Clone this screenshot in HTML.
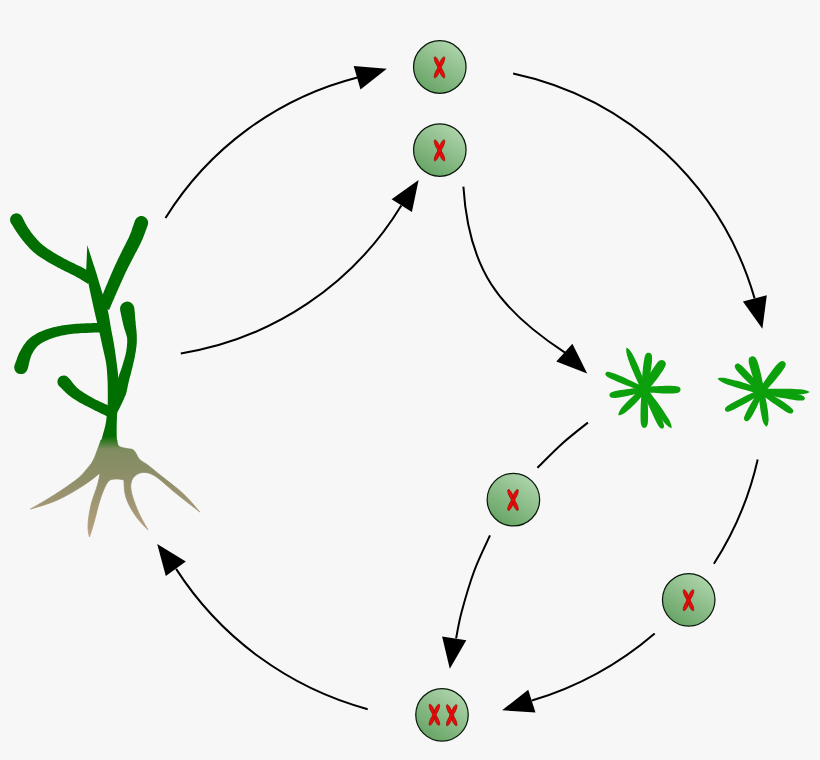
<!DOCTYPE html>
<html><head><meta charset="utf-8">
<style>
html,body{margin:0;padding:0;background:#f7f7f7;font-family:"Liberation Sans",sans-serif;}
svg{display:block}
</style></head>
<body>
<svg width="820" height="760" viewBox="0 0 820 760">
<defs>
<linearGradient id="cg" x1="0.8" y1="0.1" x2="0.25" y2="0.95">
<stop offset="0" stop-color="#acd2a9"/><stop offset="1" stop-color="#68a566"/>
</linearGradient>
<linearGradient id="pg" gradientUnits="userSpaceOnUse" x1="0" y1="436" x2="0" y2="537">
<stop offset="0" stop-color="#006e00"/><stop offset="0.13" stop-color="#808c60"/><stop offset="0.45" stop-color="#918f6b"/><stop offset="1" stop-color="#b8a080"/>
</linearGradient>
<g id="chr" fill="#ee0808" stroke="#981008" stroke-width="0.7">
<ellipse cx="0" cy="-5.7" rx="1.75" ry="5.85" transform="rotate(-24.5)"/>
<ellipse cx="0" cy="-5.7" rx="1.75" ry="5.85" transform="rotate(24.5)"/>
<ellipse cx="0" cy="5.7" rx="1.75" ry="5.85" transform="rotate(-24.5)"/>
<ellipse cx="0" cy="5.7" rx="1.75" ry="5.85" transform="rotate(24.5)"/>
<circle r="2.3" stroke-width="0.4"/>
</g>
</defs>
<rect width="820" height="760" fill="#f7f7f7"/>

<g fill="none" stroke="#000" stroke-width="2">
<path d="M165.5,218.0 A318.6,318.6 0 0 1 357.5,77.5"/>
<path d="M513.1,73.4 A321.6,321.6 0 0 1 754.6,298.4"/>
<path d="M757.7,459.5 A323.8,323.8 0 0 1 713.9,563.7"/>
<path d="M654.7,633.4 A336.4,336.4 0 0 1 531.9,700.5"/>
<path d="M367.7,709.2 A331.2,331.2 0 0 1 176.1,568.9"/>
<path d="M180.8,353.4 A316.6,316.6 0 0 0 401.3,205.5"/>
<path d="M463.4,186.6 C468.6,269.0 498.6,309.3 565.0,352.6"/>
<path d="M587.9,422.6 C583.7,426.0 571.0,435.7 562.6,443.2 C554.2,450.7 541.6,463.7 537.4,467.8"/>
<path d="M490.0,535.4 C487.4,541.3 478.9,558.2 474.2,571.0 C469.5,583.8 464.6,600.8 461.6,612.0 C458.6,623.2 457.0,634.0 456.1,638.4"/>
</g>
<g fill="#000">
<path d="M386.8,68.7 L353.7,66.1 L360.5,89.5Z"/>
<path d="M418.6,180.0 L391.6,199.2 L411.9,212.1Z"/>
<path d="M762.4,328.7 L742.9,301.4 L766.8,295.3Z"/>
<path d="M587.2,373.5 L556.3,361.6 L572.4,343.7Z"/>
<path d="M449.8,668.7 L442.1,636.5 L466.3,640.3Z"/>
<path d="M502.1,710.3 L528.2,689.7 L535.5,712.6Z"/>
<path d="M157.2,544.0 L185.8,561.6 L165.8,576.0Z"/>
</g>
<circle cx="439.8" cy="67.0" r="26.25" fill="url(#cg)" stroke="#0a1a0a" stroke-width="1.25"/>
<use href="#chr" x="439.5" y="67.4"/>
<circle cx="439.8" cy="150.0" r="26.25" fill="url(#cg)" stroke="#0a1a0a" stroke-width="1.25"/>
<use href="#chr" x="439.5" y="150.4"/>
<circle cx="513.4" cy="499.7" r="26.25" fill="url(#cg)" stroke="#0a1a0a" stroke-width="1.25"/>
<use href="#chr" x="513.0" y="500.0"/>
<circle cx="688.7" cy="599.8" r="26.25" fill="url(#cg)" stroke="#0a1a0a" stroke-width="1.25"/>
<use href="#chr" x="688.5" y="600.2"/>
<circle cx="442.0" cy="714.8" r="26.25" fill="url(#cg)" stroke="#0a1a0a" stroke-width="1.25"/>
<use href="#chr" x="434.4" y="714.8"/>
<use href="#chr" x="451.7" y="715.2"/>
<g fill="#006e00">
<path d="M10.9,222.9 L11.4,223.7 L11.9,224.5 L12.4,225.3 L12.9,226.1 L13.4,227.0 L13.9,227.8 L14.5,228.7 L15.0,229.6 L15.6,230.5 L16.2,231.4 L16.8,232.3 L17.5,233.3 L18.1,234.2 L18.8,235.1 L19.4,236.0 L20.1,236.9 L20.8,237.9 L21.5,238.8 L22.2,239.7 L22.9,240.7 L23.7,241.6 L24.4,242.5 L25.2,243.4 L25.9,244.3 L26.7,245.1 L27.4,245.9 L28.2,246.7 L28.9,247.6 L29.7,248.4 L30.5,249.2 L31.3,250.0 L32.2,250.8 L33.1,251.7 L34.0,252.5 L35.0,253.3 L36.0,254.1 L37.0,254.9 L38.2,255.7 L39.3,256.5 L40.4,257.3 L41.6,258.1 L42.8,258.8 L44.0,259.6 L45.2,260.3 L46.3,261.0 L47.5,261.7 L48.6,262.4 L49.8,263.0 L50.9,263.7 L52.1,264.3 L53.2,265.0 L54.3,265.6 L55.5,266.2 L56.6,266.8 L57.7,267.4 L58.9,268.0 L60.0,268.6 L61.1,269.2 L62.2,269.7 L63.3,270.3 L64.5,270.9 L65.6,271.5 L66.8,272.0 L67.9,272.6 L69.0,273.1 L70.1,273.7 L71.2,274.2 L72.3,274.7 L73.4,275.3 L74.4,275.8 L75.4,276.3 L76.4,276.9 L77.4,277.4 L78.4,278.0 L79.3,278.5 L80.3,279.1 L81.2,279.7 L82.2,280.3 L83.2,280.9 L84.1,281.5 L85.1,282.1 L86.1,282.7 L87.1,283.3 L88.1,284.0 L93.9,274.0 L92.9,273.5 L91.9,272.9 L91.0,272.4 L90.0,271.8 L89.0,271.2 L88.0,270.6 L86.9,270.1 L85.9,269.5 L84.9,268.9 L83.8,268.3 L82.7,267.7 L81.6,267.1 L80.5,266.6 L79.3,266.0 L78.2,265.4 L77.1,264.9 L75.9,264.4 L74.8,263.8 L73.7,263.3 L72.6,262.8 L71.5,262.3 L70.4,261.8 L69.3,261.2 L68.3,260.7 L67.2,260.1 L66.1,259.6 L65.0,259.0 L63.9,258.4 L62.9,257.8 L61.8,257.2 L60.7,256.6 L59.6,256.0 L58.6,255.4 L57.5,254.8 L56.5,254.2 L55.4,253.6 L54.3,252.9 L53.2,252.2 L52.1,251.5 L51.0,250.8 L49.9,250.1 L48.8,249.4 L47.7,248.7 L46.7,248.0 L45.7,247.3 L44.8,246.6 L43.9,246.0 L43.0,245.3 L42.2,244.6 L41.5,244.0 L40.7,243.3 L40.0,242.6 L39.3,241.9 L38.7,241.2 L38.0,240.5 L37.3,239.8 L36.7,239.1 L36.0,238.3 L35.3,237.5 L34.7,236.7 L34.0,236.0 L33.4,235.2 L32.7,234.3 L32.1,233.5 L31.4,232.7 L30.8,231.8 L30.2,231.0 L29.6,230.1 L29.0,229.3 L28.4,228.4 L27.9,227.6 L27.3,226.7 L26.8,225.9 L26.4,225.1 L25.9,224.3 L25.5,223.5 L25.1,222.7 L24.6,221.8 L24.2,221.0 L23.8,220.1 L23.3,219.2 L22.9,218.3 L22.4,217.4 L21.9,216.5 L20.5,214.8 L18.6,213.7 L16.4,213.3 L14.2,213.7 L12.3,214.8 L10.9,216.5 L10.1,218.6 L10.1,220.8Z"/>
<path d="M135.0,220.5 L134.6,221.8 L134.1,223.0 L133.7,224.3 L133.3,225.6 L132.8,226.8 L132.4,228.1 L132.0,229.3 L131.6,230.5 L131.2,231.7 L130.7,232.9 L130.2,234.1 L129.8,235.3 L129.2,236.5 L128.7,237.7 L128.1,238.9 L127.4,240.2 L126.8,241.5 L126.1,242.8 L125.5,244.2 L124.8,245.5 L124.1,246.8 L123.4,248.2 L122.7,249.5 L122.1,250.8 L121.5,252.0 L120.9,253.3 L120.3,254.5 L119.7,255.7 L119.1,256.9 L118.5,258.1 L117.9,259.3 L117.4,260.5 L116.8,261.7 L116.2,263.0 L115.6,264.2 L115.0,265.5 L114.4,266.8 L113.8,268.2 L113.2,269.6 L112.6,270.9 L112.0,272.3 L111.4,273.7 L110.8,275.1 L110.2,276.4 L109.7,277.8 L109.1,279.1 L108.6,280.3 L108.1,281.6 L107.6,282.7 L107.1,283.9 L106.6,285.1 L106.1,286.2 L105.6,287.3 L105.2,288.4 L104.7,289.5 L104.3,290.6 L103.9,291.6 L103.5,292.7 L103.0,293.7 L102.6,294.8 L102.3,295.8 L101.9,296.8 L101.6,297.8 L101.3,298.7 L100.9,299.7 L100.6,300.6 L100.3,301.5 L100.0,302.4 L99.8,303.3 L99.5,304.2 L99.2,305.1 L98.9,306.0 L109.1,310.0 L109.5,309.1 L109.9,308.2 L110.3,307.3 L110.7,306.4 L111.0,305.5 L111.4,304.6 L111.8,303.8 L112.2,302.9 L112.5,302.0 L112.9,301.1 L113.3,300.2 L113.8,299.2 L114.2,298.3 L114.6,297.3 L115.0,296.3 L115.5,295.3 L115.9,294.2 L116.4,293.2 L116.8,292.1 L117.3,291.0 L117.8,289.9 L118.3,288.8 L118.8,287.6 L119.3,286.4 L119.9,285.2 L120.4,284.0 L121.0,282.7 L121.6,281.4 L122.2,280.0 L122.8,278.7 L123.4,277.4 L124.0,276.0 L124.6,274.7 L125.2,273.4 L125.8,272.1 L126.4,270.9 L127.0,269.7 L127.6,268.5 L128.2,267.3 L128.8,266.1 L129.4,265.0 L130.0,263.8 L130.6,262.7 L131.2,261.5 L131.8,260.3 L132.4,259.1 L133.1,257.9 L133.7,256.6 L134.3,255.4 L135.0,254.1 L135.7,252.8 L136.4,251.5 L137.1,250.2 L137.8,248.8 L138.5,247.5 L139.2,246.1 L139.9,244.7 L140.6,243.3 L141.2,241.9 L141.8,240.5 L142.5,239.2 L143.0,237.8 L143.6,236.5 L144.1,235.1 L144.6,233.8 L145.1,232.5 L145.5,231.3 L146.0,230.0 L146.4,228.8 L146.9,227.6 L147.3,226.4 L147.8,225.1 L148.2,222.8 L147.8,220.5 L146.6,218.4 L144.8,216.9 L142.6,216.1 L140.2,216.1 L138.0,216.9 L136.2,218.4Z"/>
<path d="M27.5,369.5 L27.8,368.2 L28.2,366.9 L28.5,365.6 L28.8,364.3 L29.1,363.1 L29.4,361.8 L29.7,360.7 L30.0,359.6 L30.3,358.5 L30.6,357.5 L31.0,356.6 L31.3,355.6 L31.8,354.6 L32.3,353.6 L32.8,352.7 L33.3,351.7 L33.8,350.8 L34.4,350.0 L34.9,349.2 L35.5,348.4 L36.1,347.7 L36.7,347.0 L37.4,346.3 L38.1,345.6 L39.0,344.9 L39.9,344.3 L40.9,343.6 L41.9,342.9 L43.0,342.3 L44.2,341.7 L45.4,341.1 L46.7,340.5 L48.0,339.9 L49.4,339.3 L50.8,338.8 L52.3,338.2 L53.8,337.8 L55.3,337.3 L56.8,336.8 L58.4,336.4 L60.1,336.0 L61.7,335.6 L63.5,335.3 L65.3,334.9 L67.1,334.6 L69.0,334.3 L70.9,334.0 L72.9,333.8 L75.0,333.6 L77.1,333.4 L79.4,333.2 L81.7,333.1 L84.0,333.0 L86.4,332.9 L88.9,332.8 L91.4,332.7 L93.8,332.6 L96.3,332.6 L98.8,332.5 L101.2,332.3 L100.8,322.9 L98.4,323.0 L96.0,323.0 L93.5,323.1 L91.1,323.2 L88.6,323.3 L86.1,323.3 L83.6,323.4 L81.2,323.5 L78.8,323.7 L76.4,323.8 L74.1,324.0 L71.9,324.2 L69.7,324.5 L67.6,324.7 L65.6,325.0 L63.6,325.3 L61.7,325.6 L59.8,325.9 L57.9,326.3 L56.1,326.7 L54.3,327.1 L52.5,327.6 L50.8,328.0 L49.1,328.6 L47.5,329.1 L45.8,329.6 L44.2,330.2 L42.6,330.8 L41.1,331.5 L39.6,332.1 L38.1,332.8 L36.6,333.6 L35.2,334.4 L33.9,335.2 L32.6,336.1 L31.3,337.0 L30.0,338.0 L28.9,339.0 L27.8,340.1 L26.8,341.1 L25.8,342.2 L25.0,343.4 L24.1,344.5 L23.4,345.6 L22.7,346.8 L22.0,347.9 L21.3,349.0 L20.7,350.2 L20.0,351.4 L19.3,352.8 L18.7,354.1 L18.1,355.5 L17.6,356.8 L17.1,358.1 L16.7,359.4 L16.3,360.6 L15.8,361.8 L15.4,363.0 L15.0,364.1 L14.5,365.3 L14.2,367.6 L14.7,369.9 L15.9,371.9 L17.8,373.4 L20.0,374.1 L22.4,374.1 L24.6,373.2 L26.3,371.6Z"/>
<path d="M120.1,309.9 L120.3,311.1 L120.6,312.4 L120.9,313.6 L121.1,314.9 L121.4,316.2 L121.7,317.4 L122.0,318.7 L122.2,320.0 L122.5,321.2 L122.8,322.5 L123.1,323.8 L123.3,325.0 L123.7,326.3 L124.1,327.6 L124.4,328.9 L124.8,330.1 L125.2,331.2 L125.6,332.4 L125.9,333.5 L126.2,334.5 L126.5,335.6 L126.8,336.6 L127.0,337.6 L127.2,338.6 L127.2,339.7 L127.2,340.7 L127.2,341.8 L127.2,342.9 L127.1,344.0 L127.0,345.1 L126.9,346.3 L126.8,347.4 L126.6,348.6 L126.4,349.7 L126.3,350.9 L126.1,352.1 L125.8,353.3 L125.6,354.4 L125.3,355.6 L124.9,356.9 L124.6,358.1 L124.3,359.4 L123.9,360.6 L123.5,361.8 L123.2,363.1 L122.8,364.3 L122.4,365.5 L122.1,366.7 L121.7,367.7 L121.4,368.8 L121.0,369.8 L120.7,370.8 L120.3,371.8 L120.0,372.8 L119.6,373.8 L119.2,374.8 L118.9,375.9 L118.5,376.9 L118.2,378.0 L117.9,379.2 L117.6,380.3 L117.4,381.4 L117.2,382.6 L117.0,383.6 L116.9,384.7 L116.7,385.7 L116.6,386.7 L116.4,387.7 L116.2,388.7 L116.1,389.7 L115.9,390.7 L115.7,391.7 L115.6,392.8 L115.4,393.9 L115.2,395.1 L115.1,396.3 L114.9,397.6 L114.6,398.8 L114.4,400.0 L114.2,401.3 L114.0,402.5 L113.8,403.7 L113.6,404.9 L113.4,406.0 L113.3,407.1 L113.1,408.1 L113.0,409.1 L112.9,410.1 L112.8,411.1 L112.7,412.0 L112.6,413.0 L112.5,413.9 L112.4,414.8 L112.3,415.8 L112.2,416.7 L112.0,417.7 L114.0,418.3 L114.4,417.5 L114.9,416.6 L115.3,415.8 L115.8,415.0 L116.3,414.2 L116.7,413.3 L117.2,412.5 L117.7,411.6 L118.1,410.8 L118.6,409.9 L119.1,408.9 L119.6,408.0 L120.1,407.0 L120.6,405.9 L121.1,404.8 L121.7,403.7 L122.2,402.6 L122.8,401.4 L123.3,400.2 L123.9,399.0 L124.4,397.8 L124.9,396.6 L125.5,395.5 L125.9,394.3 L126.3,393.1 L126.5,391.9 L126.8,390.8 L127.0,389.7 L127.3,388.6 L127.5,387.6 L127.7,386.6 L127.9,385.6 L128.1,384.6 L128.3,383.7 L128.5,382.8 L128.7,381.8 L128.9,380.9 L129.2,379.9 L129.4,379.0 L129.6,378.0 L129.9,377.0 L130.2,376.0 L130.5,375.0 L130.8,373.9 L131.0,372.8 L131.3,371.7 L131.6,370.5 L131.9,369.3 L132.2,368.2 L132.5,367.0 L132.8,365.7 L133.1,364.4 L133.4,363.1 L133.7,361.8 L134.1,360.5 L134.3,359.1 L134.6,357.7 L134.9,356.4 L135.1,355.0 L135.3,353.7 L135.6,352.4 L135.8,351.2 L136.0,349.9 L136.1,348.6 L136.3,347.4 L136.5,346.1 L136.6,344.8 L136.7,343.5 L136.8,342.2 L136.8,340.9 L136.8,339.5 L136.8,338.2 L136.8,336.8 L136.8,335.4 L136.7,334.0 L136.6,332.7 L136.5,331.4 L136.4,330.1 L136.2,328.9 L136.1,327.6 L136.0,326.4 L135.8,325.3 L135.7,324.1 L135.7,323.0 L135.6,321.8 L135.4,320.5 L135.3,319.3 L135.2,318.0 L135.1,316.7 L135.0,315.5 L134.9,314.2 L134.8,312.9 L134.7,311.6 L134.5,310.3 L134.4,309.0 L134.3,307.7 L133.5,305.4 L132.0,303.4 L129.8,302.1 L127.4,301.6 L124.9,302.0 L122.7,303.2 L121.1,305.0 L120.1,307.4Z"/>
<path d="M59.2,386.2 L60.2,387.1 L61.1,387.9 L62.0,388.8 L62.9,389.7 L63.9,390.7 L64.9,391.7 L65.9,392.7 L67.0,393.7 L68.1,394.7 L69.4,395.7 L70.7,396.7 L72.0,397.7 L73.4,398.7 L74.9,399.6 L76.4,400.6 L77.9,401.5 L79.5,402.4 L81.0,403.2 L82.6,404.1 L84.2,404.9 L85.7,405.7 L87.3,406.5 L88.8,407.3 L90.3,408.0 L91.7,408.8 L93.2,409.6 L94.7,410.4 L96.2,411.1 L97.7,411.8 L99.1,412.6 L100.6,413.3 L102.0,414.0 L103.5,414.6 L104.9,415.3 L106.3,416.0 L107.7,416.7 L112.3,407.3 L110.8,406.6 L109.3,405.9 L107.8,405.2 L106.4,404.6 L104.9,403.9 L103.5,403.3 L102.0,402.6 L100.6,402.0 L99.2,401.3 L97.8,400.6 L96.4,399.9 L94.9,399.2 L93.5,398.4 L92.0,397.6 L90.6,396.7 L89.1,395.9 L87.6,395.0 L86.2,394.2 L84.7,393.3 L83.4,392.5 L82.1,391.6 L80.8,390.8 L79.6,389.9 L78.6,389.1 L77.6,388.2 L76.7,387.4 L75.9,386.5 L75.0,385.6 L74.2,384.7 L73.4,383.7 L72.6,382.7 L71.8,381.7 L71.0,380.6 L70.1,379.6 L69.1,378.5 L68.2,377.4 L66.4,376.1 L64.3,375.5 L62.1,375.7 L60.1,376.6 L58.6,378.1 L57.6,380.1 L57.4,382.3 L58.0,384.4Z"/>
</g>
<path d="M101.0,440.0 C106.3,440.0 111.7,440.0 117.0,440.0 C117.0,441.9 116.9,443.8 117.6,445.0 C118.3,446.2 119.3,446.7 121.0,447.3 C122.7,447.9 125.9,448.3 127.9,448.7 C129.9,449.1 131.8,448.9 133.2,449.8 C134.6,450.7 135.2,452.4 136.3,454.0 C137.4,455.6 137.6,457.5 139.7,459.5 C141.8,461.5 145.3,463.1 149.0,466.0 C152.7,468.9 156.4,472.0 162.1,476.6 C167.8,481.2 176.7,487.6 183.0,493.5 C189.3,499.4 194.5,505.7 199.8,512.0 C191.1,505.2 182.5,498.5 175.0,492.5 C167.5,486.5 160.4,479.3 155.0,476.0 C149.6,472.7 146.2,472.2 142.5,472.5 C138.8,472.8 134.9,475.1 133.0,478.0 C131.1,480.9 130.2,484.7 131.0,490.0 C131.8,495.3 134.7,503.3 137.5,510.0 C140.3,516.7 144.2,523.3 148.0,530.0 C143.3,525.2 138.7,520.4 135.0,515.0 C131.3,509.6 127.8,503.3 126.0,497.5 C124.2,491.7 124.1,485.8 124.0,480.0 C120.9,479.3 117.8,478.6 115.0,479.0 C112.2,479.4 110.0,479.0 107.5,482.5 C105.0,486.0 102.2,493.3 100.0,500.0 C97.8,506.7 95.8,516.3 94.0,522.5 C92.2,528.7 90.9,532.8 89.5,537.0 C88.6,533.7 87.8,530.3 88.0,525.0 C88.2,519.7 89.4,511.7 91.0,505.0 C92.6,498.3 96.0,490.3 97.5,485.0 C99.0,479.7 99.5,476.3 100.0,473.0 C94.8,477.2 89.6,481.5 82.5,486.0 C75.4,490.5 66.2,496.2 57.5,500.0 C48.8,503.8 39.7,506.4 30.5,509.0 C38.8,504.3 47.1,499.6 55.0,494.5 C62.9,489.4 72.6,482.8 77.9,478.5 C83.2,474.2 84.6,471.6 87.1,468.7 C89.6,465.8 91.1,464.3 93.0,460.8 C94.9,457.3 97.0,451.1 98.3,447.6 C99.6,444.1 100.3,442.1 101.0,440.0Z" fill="url(#pg)" stroke="url(#pg)" stroke-width="0.8" stroke-linejoin="round"/>
<path d="M87.3,245.0 C88.3,248.2 89.3,251.5 90.8,256.0 C92.2,260.5 94.1,266.0 96.0,272.0 C97.9,278.0 100.0,285.7 102.0,292.0 C104.0,298.3 106.2,303.7 107.7,310.0 C109.2,316.3 110.3,324.4 111.3,330.0 C112.3,335.6 113.1,338.8 113.9,343.7 C114.7,348.6 115.5,354.0 116.2,359.5 C116.9,365.0 117.9,371.4 118.2,376.8 C118.5,382.2 118.1,387.1 118.0,392.0 C117.9,396.9 117.7,400.5 117.5,406.0 C117.3,411.5 116.8,419.3 116.7,425.0 C116.6,430.7 116.6,436.5 117.0,440.0 C117.4,443.5 118.2,444.8 119.0,446.0 C112.5,446.0 106.0,446.0 99.5,446.0 C100.5,443.0 101.4,440.0 102.5,436.0 C103.6,432.0 105.2,427.0 106.0,422.0 C106.8,417.0 107.3,410.8 107.6,406.0 C107.9,401.2 107.8,397.8 107.8,393.0 C107.8,388.2 107.7,382.3 107.4,377.4 C107.1,372.5 106.9,368.3 106.2,363.7 C105.5,359.1 104.4,354.9 103.3,350.0 C102.2,345.1 100.9,339.0 99.8,334.0 C98.7,329.0 97.9,326.0 96.5,320.0 C95.1,314.0 92.9,304.5 91.5,298.0 C90.1,291.5 88.9,285.7 88.0,281.0 C87.1,276.3 86.7,273.2 86.2,270.0 C86.6,261.7 86.9,253.3 87.3,245.0Z" fill="url(#pg)"/>
<g fill="#0ca00c">
<path d="M646.5,388.7 C646.5,386.2 643.4,379.6 642.0,375.7 C640.5,371.8 639.2,368.6 637.7,365.1 C636.2,361.6 634.2,357.4 632.8,354.8 C631.4,352.2 630.4,351.0 629.4,349.8 C628.4,348.6 627.5,348.0 626.6,347.5 C626.4,348.5 626.1,349.5 626.3,351.1 C626.4,352.7 626.6,354.3 627.5,357.0 C628.3,359.8 630.0,364.2 631.4,367.8 C632.9,371.3 634.2,374.4 636.0,378.2 C637.8,382.0 640.4,388.8 642.1,390.5 C643.9,392.3 646.5,391.1 646.5,388.7Z"/>
<path d="M647.1,390.0 C648.3,388.9 648.0,385.7 648.6,382.7 C649.2,379.6 650.0,375.4 650.6,371.7 C651.2,368.0 651.8,363.3 652.0,360.7 C652.2,358.0 652.1,357.0 651.9,355.8 C651.7,354.6 651.3,354.1 650.8,353.6 C650.3,353.1 649.6,352.9 649.0,352.8 C648.4,352.7 647.6,352.7 647.0,353.1 C646.4,353.5 645.9,353.9 645.4,355.0 C644.9,356.1 644.5,357.0 644.1,359.7 C643.6,362.3 643.1,367.0 642.7,370.7 C642.3,374.4 642.1,378.7 641.9,381.8 C641.7,384.9 640.7,387.9 641.5,389.2 C642.4,390.6 645.9,391.1 647.1,390.0Z"/>
<path d="M646.9,391.4 C648.5,391.1 649.6,388.3 651.4,386.0 C653.2,383.7 655.8,380.5 657.9,377.7 C659.9,374.9 662.5,371.2 663.8,369.0 C665.1,366.9 665.4,365.9 665.7,364.8 C666.0,363.7 665.8,363.0 665.5,362.4 C665.2,361.7 664.6,361.1 664.0,360.7 C663.4,360.3 662.7,359.9 661.9,359.9 C661.2,359.9 660.5,360.0 659.6,360.6 C658.6,361.3 657.9,362.0 656.3,363.9 C654.8,365.9 652.3,369.7 650.4,372.6 C648.6,375.6 646.5,379.1 645.1,381.7 C643.6,384.2 641.4,386.2 641.7,387.8 C642.0,389.4 645.3,391.7 646.9,391.4Z"/>
<path d="M644.3,392.2 C645.5,393.2 648.5,392.6 651.5,392.8 C654.6,393.0 658.8,393.3 662.4,393.4 C666.0,393.4 670.7,393.5 673.3,393.4 C675.9,393.2 676.8,393.0 678.0,392.7 C679.1,392.4 679.5,391.9 680.0,391.4 C680.4,390.9 680.5,390.2 680.5,389.6 C680.5,389.0 680.4,388.3 680.0,387.8 C679.5,387.3 679.1,386.9 678.0,386.5 C676.8,386.2 675.9,386.0 673.3,385.9 C670.7,385.7 666.0,385.8 662.4,385.9 C658.8,385.9 654.6,386.2 651.5,386.4 C648.5,386.6 645.5,386.0 644.3,387.0 C643.1,387.9 643.1,391.3 644.3,392.2Z"/>
<path d="M642.4,391.0 C643.0,393.4 647.5,399.4 649.9,403.0 C652.2,406.7 654.2,409.6 656.5,412.8 C658.9,416.0 661.8,419.9 663.8,422.1 C665.7,424.4 667.0,425.5 668.3,426.5 C669.6,427.5 670.6,427.8 671.6,428.2 C671.6,427.1 671.6,426.1 671.1,424.5 C670.6,423.0 670.0,421.4 668.5,418.8 C667.0,416.2 664.3,412.1 662.1,408.9 C659.9,405.6 657.8,402.8 655.1,399.3 C652.5,395.9 648.4,389.6 646.2,388.2 C644.1,386.8 641.8,388.5 642.4,391.0Z"/>
<path d="M642.3,390.5 C642.2,392.2 644.2,395.2 645.6,398.5 C647.0,401.8 649.0,406.4 650.8,410.3 C652.5,414.2 654.9,419.2 656.3,422.0 C657.7,424.7 658.4,425.7 659.2,426.8 C660.0,427.9 660.6,428.2 661.2,428.5 C661.8,428.7 662.4,428.6 662.8,428.4 C663.2,428.2 663.7,427.8 663.9,427.2 C664.0,426.5 664.1,425.9 663.8,424.6 C663.5,423.3 663.1,422.1 661.9,419.3 C660.7,416.5 658.3,411.5 656.3,407.7 C654.4,403.8 652.1,399.4 650.4,396.2 C648.7,393.1 647.6,389.6 646.3,388.7 C644.9,387.7 642.4,388.9 642.3,390.5Z"/>
<path d="M641.7,389.6 C640.8,390.9 641.3,394.1 641.2,397.2 C641.0,400.4 640.7,404.9 640.6,408.7 C640.5,412.5 640.5,417.4 640.6,420.2 C640.7,422.9 640.9,423.9 641.3,425.1 C641.6,426.3 642.0,426.8 642.5,427.2 C643.0,427.7 643.7,427.8 644.3,427.8 C644.9,427.8 645.6,427.7 646.1,427.2 C646.6,426.8 647.0,426.3 647.3,425.1 C647.7,423.9 647.9,422.9 648.0,420.2 C648.1,417.4 648.1,412.5 648.0,408.7 C647.9,404.9 647.6,400.4 647.4,397.2 C647.3,394.1 647.8,390.9 646.9,389.6 C645.9,388.3 642.7,388.3 641.7,389.6Z"/>
<path d="M642.6,387.9 C640.6,388.5 636.7,392.7 634.2,394.9 C631.7,397.2 629.7,399.1 627.6,401.3 C625.5,403.4 622.9,406.2 621.5,408.0 C620.0,409.9 619.5,411.1 619.0,412.3 C618.5,413.5 618.4,414.4 618.4,415.3 C619.3,415.3 620.2,415.2 621.4,414.7 C622.7,414.2 623.8,413.7 625.7,412.3 C627.5,410.9 630.3,408.3 632.5,406.2 C634.7,404.1 636.6,402.2 638.9,399.7 C641.1,397.2 645.4,393.3 646.0,391.3 C646.6,389.4 644.5,387.3 642.6,387.9Z"/>
<path d="M643.9,387.3 C642.6,386.6 639.8,387.6 636.9,387.9 C633.9,388.3 629.8,388.7 626.3,389.2 C622.8,389.7 618.4,390.4 615.9,391.0 C613.4,391.5 612.5,391.9 611.5,392.3 C610.4,392.8 610.1,393.3 609.7,393.8 C609.4,394.3 609.4,395.0 609.5,395.5 C609.6,396.0 609.8,396.6 610.3,397.0 C610.8,397.4 611.3,397.7 612.4,397.8 C613.5,397.9 614.5,398.0 617.0,397.7 C619.5,397.3 624.0,396.6 627.5,395.9 C630.9,395.2 635.0,394.3 637.8,393.6 C640.7,393.0 643.7,393.0 644.7,391.9 C645.7,390.9 645.2,387.9 643.9,387.3Z"/>
<path d="M645.1,387.6 C644.2,386.3 640.7,385.4 637.6,383.9 C634.4,382.4 630.0,380.3 626.1,378.5 C622.3,376.8 617.3,374.7 614.5,373.6 C611.7,372.5 610.5,372.3 609.2,372.0 C607.9,371.7 607.3,371.9 606.7,372.1 C606.0,372.3 605.7,372.7 605.5,373.2 C605.3,373.7 605.2,374.2 605.5,374.8 C605.8,375.4 606.1,375.9 607.2,376.7 C608.3,377.4 609.3,378.1 612.1,379.3 C614.8,380.6 619.8,382.7 623.7,384.3 C627.6,385.8 632.2,387.5 635.5,388.7 C638.8,390.0 641.9,391.8 643.5,391.6 C645.1,391.4 646.1,388.9 645.1,387.6Z"/>
<circle cx="644.3" cy="389.6" r="5"/>
<path d="M764.3,390.5 C765.0,389.0 763.5,386.3 762.9,383.3 C762.3,380.3 761.5,376.2 760.6,372.7 C759.8,369.1 758.5,364.7 757.7,362.2 C756.9,359.7 756.3,358.8 755.7,357.9 C755.0,356.9 754.4,356.6 753.7,356.4 C753.0,356.1 752.2,356.2 751.5,356.4 C750.8,356.6 750.1,356.9 749.6,357.5 C749.1,358.1 748.8,358.6 748.7,359.8 C748.6,361.0 748.6,362.0 749.2,364.6 C749.8,367.1 751.1,371.6 752.2,375.0 C753.2,378.5 754.7,382.5 755.7,385.3 C756.8,388.2 756.9,391.3 758.3,392.1 C759.8,393.0 763.5,391.9 764.3,390.5Z"/>
<path d="M763.1,389.6 C763.0,388.0 760.4,386.2 758.4,383.8 C756.4,381.4 753.6,378.1 751.1,375.3 C748.6,372.6 745.3,369.1 743.4,367.2 C741.5,365.4 740.6,364.8 739.6,364.2 C738.6,363.5 738.0,363.5 737.3,363.5 C736.7,363.5 736.1,363.9 735.7,364.3 C735.3,364.7 734.9,365.2 734.8,365.9 C734.8,366.5 734.8,367.2 735.3,368.2 C735.9,369.3 736.5,370.2 738.2,372.2 C740.0,374.2 743.3,377.6 745.9,380.3 C748.5,382.9 751.7,385.9 754.0,388.0 C756.2,390.1 757.9,392.8 759.5,393.0 C761.0,393.3 763.3,391.1 763.1,389.6Z"/>
<path d="M761.9,389.1 C760.0,387.6 753.0,385.8 749.0,384.5 C745.1,383.2 741.8,382.2 738.1,381.1 C734.5,380.1 729.9,379.0 727.0,378.4 C724.2,377.9 722.6,377.8 721.0,377.8 C719.4,377.9 718.5,378.2 717.5,378.5 C718.1,379.3 718.8,380.1 720.1,381.0 C721.4,381.8 722.8,382.6 725.5,383.7 C728.2,384.8 732.7,386.3 736.3,387.4 C739.9,388.5 743.2,389.4 747.3,390.4 C751.4,391.4 758.2,393.7 760.7,393.5 C763.1,393.3 763.9,390.6 761.9,389.1Z"/>
<path d="M760.2,389.3 C758.6,389.1 755.9,391.2 752.8,392.6 C749.7,394.1 745.4,396.1 741.7,397.9 C738.1,399.8 733.4,402.2 730.9,403.7 C728.3,405.1 727.4,405.8 726.5,406.7 C725.5,407.5 725.2,408.1 725.0,408.7 C724.8,409.3 725.0,409.9 725.2,410.4 C725.4,410.9 725.9,411.3 726.5,411.5 C727.1,411.7 727.7,411.8 729.0,411.5 C730.2,411.1 731.3,410.8 734.0,409.5 C736.6,408.2 741.2,405.7 744.8,403.8 C748.4,401.8 752.5,399.3 755.4,397.6 C758.3,395.9 761.6,394.7 762.4,393.3 C763.2,392.0 761.8,389.4 760.2,389.3Z"/>
<path d="M759.2,390.2 C757.9,390.8 757.1,393.5 755.6,395.9 C754.1,398.2 752.1,401.6 750.4,404.5 C748.7,407.4 746.7,411.2 745.7,413.4 C744.6,415.5 744.4,416.5 744.1,417.5 C743.9,418.6 744.1,419.1 744.3,419.7 C744.5,420.3 745.0,420.6 745.5,420.9 C746.0,421.2 746.6,421.4 747.2,421.2 C747.8,421.1 748.3,420.9 749.1,420.1 C749.8,419.4 750.4,418.7 751.7,416.6 C752.9,414.5 754.9,410.7 756.4,407.7 C757.9,404.7 759.5,401.1 760.7,398.6 C761.9,396.0 763.6,393.8 763.4,392.4 C763.2,391.0 760.5,389.6 759.2,390.2Z"/>
<path d="M758.8,391.7 C758.1,393.6 759.2,399.2 759.5,402.5 C759.8,405.7 760.2,408.4 760.7,411.4 C761.2,414.3 761.9,417.9 762.5,420.2 C763.1,422.4 763.8,423.5 764.4,424.6 C765.1,425.7 765.9,426.2 766.6,426.8 C767.1,426.1 767.7,425.3 768.0,424.0 C768.3,422.8 768.6,421.5 768.6,419.2 C768.5,417.0 768.2,413.3 767.8,410.3 C767.4,407.3 766.9,404.7 766.3,401.4 C765.6,398.2 765.0,392.6 763.8,390.9 C762.5,389.3 759.5,389.8 758.8,391.7Z"/>
<path d="M760.0,393.2 C760.6,394.6 763.5,396.0 766.1,397.9 C768.6,399.7 772.2,402.4 775.3,404.6 C778.4,406.8 782.4,409.5 784.7,410.9 C787.1,412.4 788.1,412.8 789.2,413.2 C790.3,413.6 790.9,413.5 791.5,413.4 C792.2,413.3 792.6,412.8 792.9,412.4 C793.2,412.0 793.4,411.4 793.3,410.8 C793.2,410.1 793.0,409.6 792.2,408.7 C791.4,407.8 790.6,407.0 788.4,405.4 C786.2,403.8 782.1,401.1 778.9,399.1 C775.7,397.1 771.9,394.8 769.2,393.2 C766.5,391.6 764.1,389.4 762.6,389.4 C761.1,389.4 759.4,391.8 760.0,393.2Z"/>
<path d="M760.9,393.5 C762.2,394.6 766.0,394.7 769.6,395.4 C773.2,396.2 778.2,397.3 782.5,398.1 C786.9,398.9 792.4,399.8 795.6,400.2 C798.7,400.6 799.9,400.6 801.3,400.6 C802.7,400.5 803.3,400.3 803.9,399.9 C804.5,399.6 804.7,399.0 804.8,398.5 C804.9,398.0 804.8,397.4 804.4,396.9 C804.0,396.4 803.5,395.9 802.2,395.4 C800.9,394.9 799.7,394.5 796.6,393.9 C793.5,393.3 787.9,392.4 783.6,391.7 C779.2,391.1 774.1,390.5 770.4,390.1 C766.8,389.6 763.3,388.5 761.7,389.1 C760.1,389.7 759.6,392.5 760.9,393.5Z"/>
<path d="M761.3,393.4 C763.7,394.3 771.3,394.1 775.7,394.4 C780.2,394.6 783.8,394.7 787.8,394.7 C791.8,394.7 796.8,394.6 799.9,394.4 C803.0,394.2 804.6,393.9 806.2,393.5 C807.8,393.0 808.7,392.5 809.6,392.0 C808.7,391.4 807.8,390.9 806.2,390.5 C804.6,390.0 803.0,389.6 800.0,389.3 C796.9,389.0 791.9,388.8 787.9,388.7 C783.9,388.6 780.3,388.6 775.8,388.7 C771.4,388.7 763.8,388.4 761.3,389.2 C758.9,390.0 758.9,392.5 761.3,393.4Z"/>
<path d="M763.6,393.1 C765.2,392.7 766.6,389.9 768.7,387.5 C770.8,385.2 773.7,381.9 776.1,379.0 C778.5,376.1 781.5,372.3 783.0,370.1 C784.6,367.9 785.0,367.0 785.4,365.8 C785.9,364.7 785.8,364.0 785.6,363.4 C785.4,362.7 784.9,362.1 784.4,361.7 C783.9,361.3 783.2,360.9 782.5,360.9 C781.8,360.9 781.1,361.0 780.1,361.7 C779.1,362.4 778.3,363.1 776.5,365.1 C774.8,367.1 771.8,371.0 769.6,374.0 C767.4,377.0 764.9,380.6 763.2,383.2 C761.4,385.8 759.0,387.9 759.0,389.5 C759.1,391.2 762.0,393.4 763.6,393.1Z"/>
<circle cx="761.3" cy="391.3" r="5"/>
</g>
</svg>
</body></html>
